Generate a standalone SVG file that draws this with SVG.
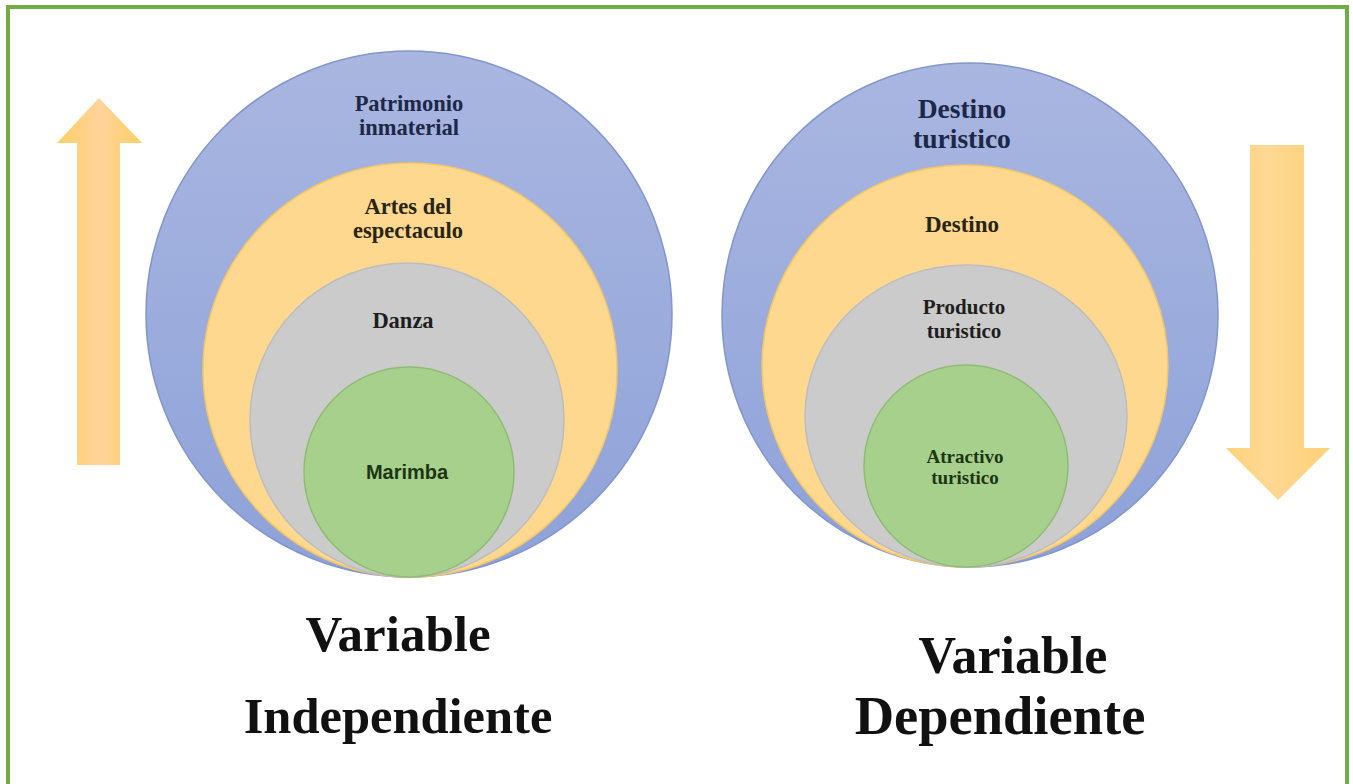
<svg xmlns="http://www.w3.org/2000/svg" width="1353" height="784" viewBox="0 0 1353 784">
<defs>
<linearGradient id="gBlue" x1="0" y1="0" x2="0" y2="1">
<stop offset="0" stop-color="#a9b6e0"/><stop offset="1" stop-color="#8ea2d9"/>
</linearGradient>
<linearGradient id="gArrowV" x1="0" y1="0" x2="1" y2="0">
<stop offset="0" stop-color="#fdcf66"/><stop offset="0.5" stop-color="#ffd39a"/><stop offset="1" stop-color="#fdcf66"/>
</linearGradient>
<linearGradient id="gArrowR" x1="0" y1="0" x2="1" y2="0">
<stop offset="0" stop-color="#fed27a"/><stop offset="0.4" stop-color="#ffd894"/><stop offset="1" stop-color="#fed176"/>
</linearGradient>
</defs>
<style>
.blue{fill:url(#gBlue);stroke:#8196cc;stroke-width:1.5}
.yel{fill:#fed88f;stroke:#f5c766;stroke-width:1.5}
.gray{fill:#cbcbcb;stroke:#bdbdbd;stroke-width:1.5}
.grn{fill:#a8d08d;stroke:#8fbc74;stroke-width:1.5}
.lbl{font-family:"Liberation Serif","Times New Roman",serif;font-weight:bold;text-anchor:middle}
.sans{font-family:"Liberation Sans",Arial,sans-serif;font-weight:bold;text-anchor:middle}
.big{font-family:"Liberation Serif","Times New Roman",serif;font-weight:bold;text-anchor:middle;fill:#111}
</style>
<rect x="8" y="7" width="1339" height="800" fill="#ffffff" stroke="#70ad47" stroke-width="4"/>

<g id="arrow-up">
<polygon points="77,465 77,143 57,143 99,98 142,143 120,143 120,465" fill="url(#gArrowV)"/>
</g>
<g id="arrow-down">
<polygon points="1250,145 1304,145 1304,448 1330,448 1278,500 1226,448 1250,448" fill="url(#gArrowR)"/>
</g>

<g id="left-set">
<g id="patrimonio">
<circle class="blue" cx="409" cy="314" r="263"/>
<text class="lbl" font-size="22.5" fill="#1d2748" x="409" y="111">Patrimonio</text>
<text class="lbl" font-size="22.5" fill="#1d2748" x="409" y="135">inmaterial</text>
</g>
<g id="artes">
<circle class="yel" cx="410" cy="370" r="207"/>
<text class="lbl" font-size="22.5" fill="#2a2414" x="408" y="214">Artes del</text>
<text class="lbl" font-size="22.5" fill="#2a2414" x="408" y="238">espectaculo</text>
</g>
<g id="danza">
<circle class="gray" cx="407" cy="420" r="157"/>
<text class="lbl" font-size="22.5" fill="#1e1e1e" x="403" y="328">Danza</text>
</g>
<g id="marimba">
<circle class="grn" cx="409" cy="472" r="105"/>
<text class="sans" font-size="20" fill="#1c3613" x="407" y="479">Marimba</text>
</g>
</g>

<g id="right-set">
<g id="destino-turistico">
<ellipse class="blue" cx="970" cy="315" rx="248" ry="252"/>
<text class="lbl" font-size="27.5" fill="#1d2748" x="962" y="118">Destino</text>
<text class="lbl" font-size="27.5" fill="#1d2748" x="962" y="148">turistico</text>
</g>
<g id="destino">
<ellipse class="yel" cx="965" cy="366" rx="203" ry="201"/>
<text class="lbl" font-size="23" fill="#2a2414" x="962" y="232">Destino</text>
</g>
<g id="producto">
<ellipse class="gray" cx="966" cy="416" rx="161" ry="151"/>
<text class="lbl" font-size="21" fill="#1e1e1e" x="964" y="314">Producto</text>
<text class="lbl" font-size="21" fill="#1e1e1e" x="964" y="338">turistico</text>
</g>
<g id="atractivo">
<ellipse class="grn" cx="966" cy="466" rx="102" ry="101"/>
<text class="lbl" font-size="19" fill="#1c3613" x="965" y="463">Atractivo</text>
<text class="lbl" font-size="19" fill="#1c3613" x="965" y="484">turistico</text>
</g>
</g>

<g id="captions">
<text class="big" font-size="51" x="398" y="651">Variable</text>
<text class="big" font-size="50.5" x="398" y="733">Independiente</text>
<text class="big" font-size="52" x="1013" y="673">Variable</text>
<text class="big" font-size="54.5" x="1000" y="734">Dependiente</text>
</g>
</svg>
